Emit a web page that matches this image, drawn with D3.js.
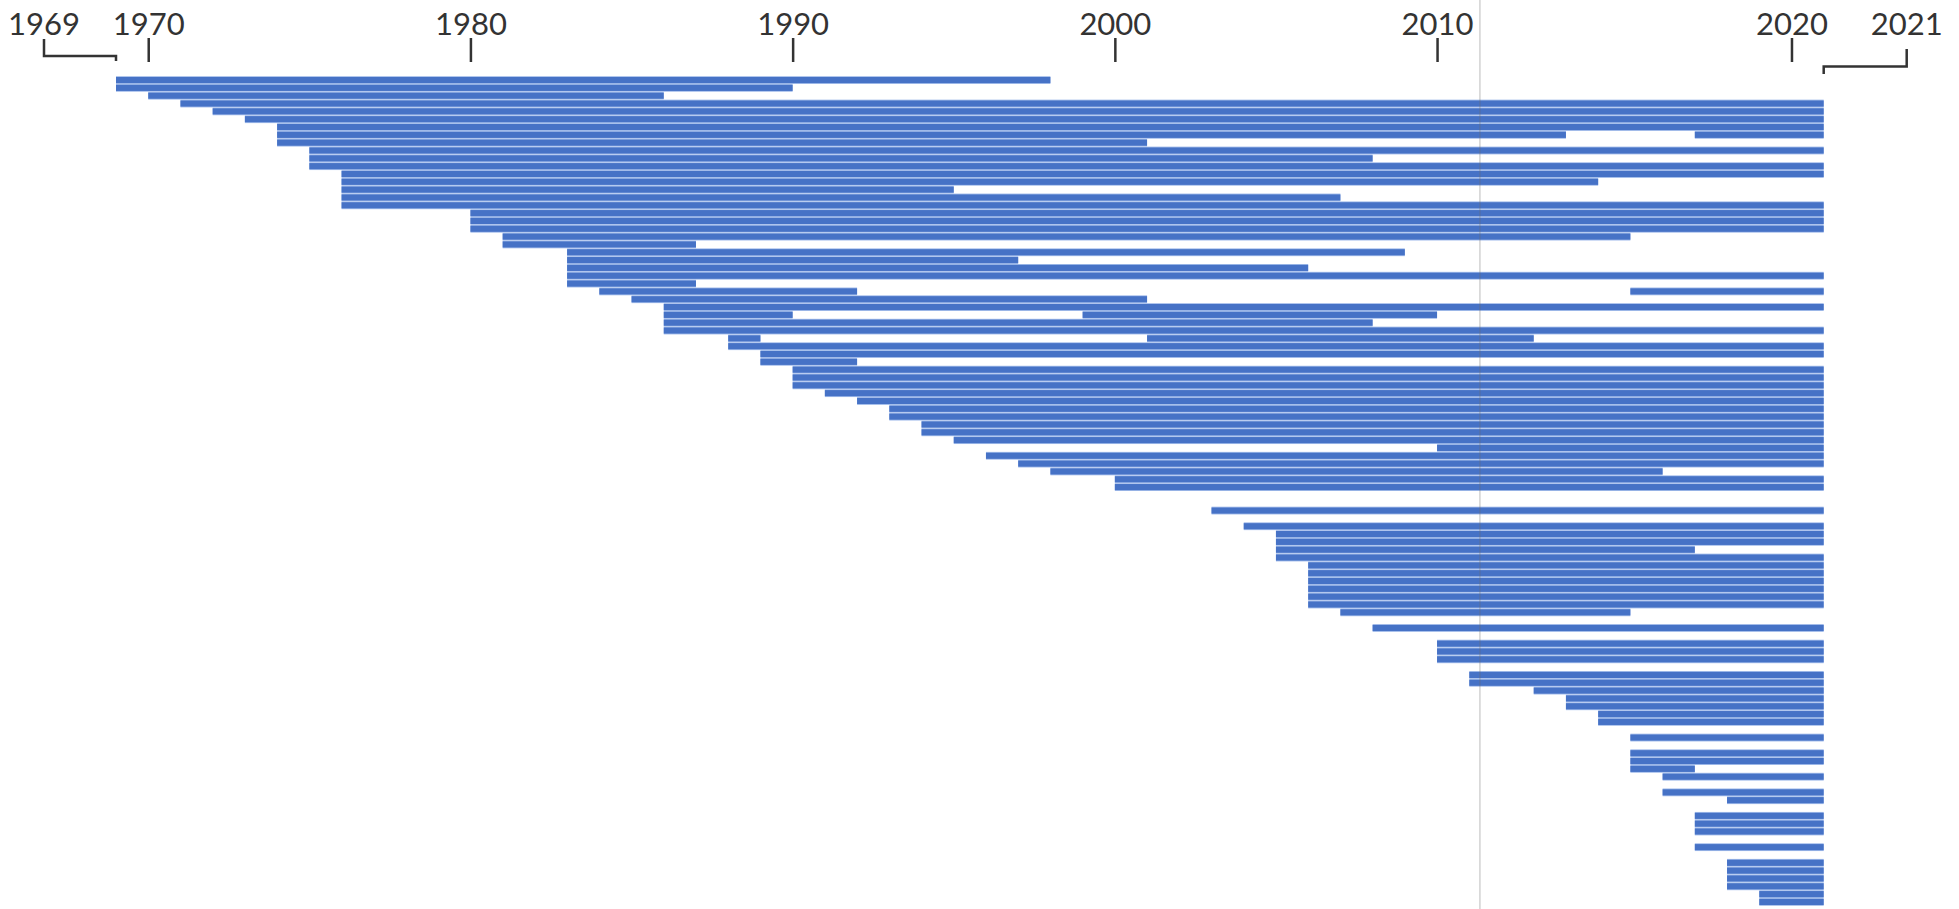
<!DOCTYPE html>
<html>
<head>
<meta charset="utf-8">
<script src="https://cdn.jsdelivr.net/npm/d3@7"></script>
<style>
  body { margin: 0; background: #fff; }
  svg { display: block; }
  text { font-family: Lato, "Open Sans", sans-serif; }
</style>
</head>
<body>
<svg id="chart" width="1959" height="909"></svg>
<script>
// one entry per row, top to bottom (first and last active year, inclusive); null = empty row
const firstYear = [
  1969, 1969, 1970, 1971, 1972, 1973, 1974, 1974, 1974, 1975,
  1975, 1975, 1976, 1976, 1976, 1976, 1976, 1980, 1980, 1980,
  1981, 1981, 1983, 1983, 1983, 1983, 1983, 1984, 1985, 1986,
  1986, 1986, 1986, 1988, 1988, 1989, 1989, 1990, 1990, 1990,
  1991, 1992, 1993, 1993, 1994, 1994, 1995, 2010, 1996, 1997,
  1998, 2000, 2000, null, null, 2003, null, 2004, 2005, 2005,
  2005, 2005, 2006, 2006, 2006, 2006, 2006, 2006, 2007, null,
  2008, null, 2010, 2010, 2010, null, 2011, 2011, 2013, 2014,
  2014, 2015, 2015, null, 2016, null, 2016, 2016, 2016, 2017,
  null, 2017, 2019, null, 2018, 2018, 2018, null, 2018, null,
  2019, 2019, 2019, 2019, 2020, 2020
];
const lastYear = [
  1997, 1989, 1985, 2021, 2021, 2021, 2021, 2013, 2000, 2021,
  2007, 2021, 2021, 2014, 1994, 2006, 2021, 2021, 2021, 2021,
  2015, 1986, 2008, 1996, 2005, 2021, 1986, 1991, 2000, 2021,
  1989, 2007, 2021, 1988, 2021, 2021, 1991, 2021, 2021, 2021,
  2021, 2021, 2021, 2021, 2021, 2021, 2021, 2021, 2021, 2021,
  2016, 2021, 2021, null, null, 2021, null, 2021, 2021, 2021,
  2017, 2021, 2021, 2021, 2021, 2021, 2021, 2021, 2015, null,
  2021, null, 2021, 2021, 2021, null, 2021, 2021, 2021, 2021,
  2021, 2021, 2021, null, 2021, null, 2021, 2021, 2017, 2021,
  null, 2021, 2021, null, 2021, 2021, 2021, null, 2021, null,
  2021, 2021, 2021, 2021, 2021, 2021
];
// rows that start again after a break
const resumeRow = [7, 27, 30, 33];
const resumeFirst = [2018, 2016, 1999, 2001];
const resumeLast = [2021, 2021, 2009, 2012];

const tickYears = [1970, 1980, 1990, 2000, 2010, 2020];
const spanYears = [1969, 2021];
const creaseYear = 2011.33; // faint vertical fold line in the scan

const svg = d3.select("#chart");
const W = 1959, H = 909;

const x = d3.scaleLinear().domain([1969, 2022]).range([116, 1823.7]);
const y = d3.scaleBand()
  .domain(d3.range(firstYear.length))
  .range([77, 905])
  .paddingInner(0.22);
const gap = y.step() - y.bandwidth();

// the hand-drawn axis puts the 2020 mark at the end of that year
const axisX = d3.scaleLinear()
  .domain([1969, 2010, 2020, 2021])
  .range([x(1969), x(2010), x(2021), x(2022)]);

const segments = [];
firstYear.forEach((f, i) => {
  if (f !== null) segments.push({ row: i, from: f, to: lastYear[i] + 1 });
});
resumeRow.forEach((r, k) => {
  segments.push({ row: r, from: resumeFirst[k], to: resumeLast[k] + 1 });
});

// pale fill behind the bars so stacked rows show light seams
svg.append("g")
  .selectAll("rect")
  .data(segments)
  .join("rect")
  .attr("x", d => x(d.from))
  .attr("y", d => y(d.row) - gap / 2)
  .attr("width", d => x(d.to) - x(d.from))
  .attr("height", y.step())
  .attr("fill", "#a4bdeb");

svg.append("g")
  .selectAll("rect")
  .data(segments)
  .join("rect")
  .attr("x", d => x(d.from))
  .attr("y", d => y(d.row))
  .attr("width", d => x(d.to) - x(d.from))
  .attr("height", y.bandwidth())
  .attr("fill", "#4672c6");

svg.append("line")
  .attr("x1", x(creaseYear)).attr("x2", x(creaseYear))
  .attr("y1", 0).attr("y2", H)
  .attr("stroke", "#6b6b6b")
  .attr("stroke-opacity", 0.3)
  .attr("stroke-width", 1.5);

// decade axis
const axis = svg.append("g")
  .attr("transform", "translate(0,62)")
  .call(d3.axisTop(axisX)
    .tickValues(tickYears)
    .tickSize(24)
    .tickPadding(3)
    .tickFormat(d3.format("d")));
axis.select(".domain").remove();
axis.selectAll(".tick line").attr("stroke", "#333").attr("stroke-width", 2.5);
axis.selectAll(".tick text")
  .attr("fill", "#333")
  .style("font-size", "31px")
  .style("font-family", "Lato, 'Open Sans', sans-serif");

// brackets for first and last year
const leftX = x(spanYears[0]) - 72;
const rightX = x(spanYears[1] + 1) + 83;

svg.append("path")
  .attr("d", `M${leftX},39 V56 H${x(spanYears[0])} V61`)
  .attr("fill", "none")
  .attr("stroke", "#333")
  .attr("stroke-width", 2.5);
svg.append("path")
  .attr("d", `M${x(spanYears[1] + 1)},74 V66.5 H${rightX} V49`)
  .attr("fill", "none")
  .attr("stroke", "#333")
  .attr("stroke-width", 2.5);

svg.append("text")
  .attr("x", leftX).attr("y", 35)
  .attr("text-anchor", "middle")
  .attr("fill", "#333")
  .style("font-size", "31px")
  .text(spanYears[0]);
svg.append("text")
  .attr("x", rightX).attr("y", 35)
  .attr("text-anchor", "middle")
  .attr("fill", "#333")
  .style("font-size", "31px")
  .text(spanYears[1]);
</script>
</body>
</html>
